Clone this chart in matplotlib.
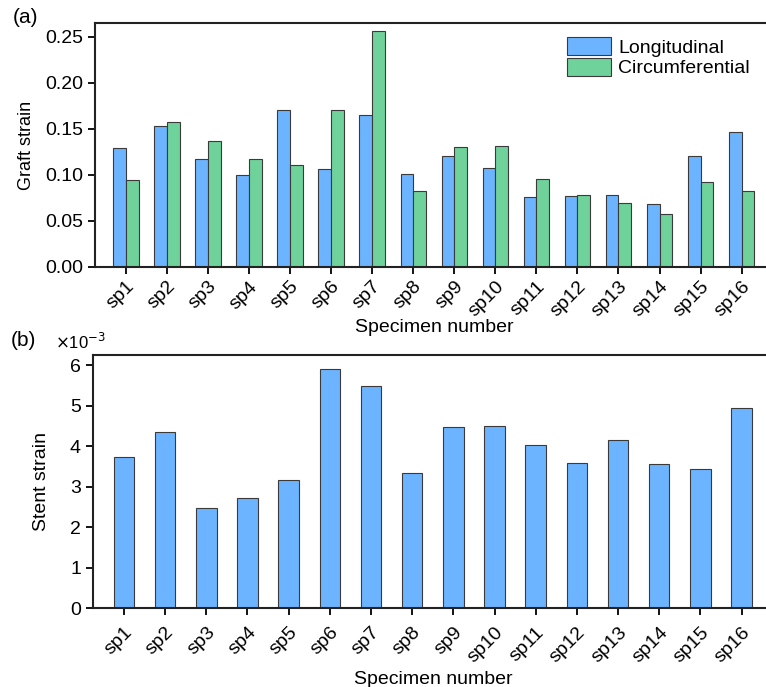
import matplotlib
matplotlib.use("Agg")
import matplotlib.pyplot as plt
import numpy as np

plt.rcParams['font.family'] = ['Liberation Sans', 'DejaVu Sans']

specimens = [f"sp{i}" for i in range(1, 17)]
longitudinal = [0.129, 0.153, 0.117, 0.100, 0.170, 0.106, 0.165, 0.101,
                0.121, 0.107, 0.076, 0.077, 0.078, 0.068, 0.121, 0.147]
circumferential = [0.094, 0.157, 0.137, 0.117, 0.111, 0.170, 0.256, 0.082,
                   0.130, 0.131, 0.096, 0.078, 0.069, 0.058, 0.092, 0.083]
stent_strain = [3.75, 4.35, 2.47, 2.73, 3.17, 5.91, 5.50, 3.35,
                4.47, 4.50, 4.04, 3.60, 4.15, 3.57, 3.44, 4.95]

blue = '#6CB4FF'
green = '#6FD29B'
edge = '#3a3a3a'

fig = plt.figure(figsize=(7.66, 6.87), dpi=100)
x = np.arange(1, 17)

# Panel (a)
ax1 = fig.add_axes([0.124, 0.6114, 0.886, 0.3551])
w = 0.31
ax1.bar(x - w/2, longitudinal, w, color=blue, edgecolor=edge, linewidth=0.8, label='Longitudinal')
ax1.bar(x + w/2, circumferential, w, color=green, edgecolor=edge, linewidth=0.8, label='Circumferential')
ax1.set_xlim(0.247, 16.78)
ax1.set_ylim(0, 0.265)
ax1.set_yticks([0, 0.05, 0.10, 0.15, 0.20, 0.25])
ax1.set_yticklabels(['0.00', '0.05', '0.10', '0.15', '0.20', '0.25'])
ax1.set_xticks(x)
ax1.set_xticklabels(specimens, rotation=45, ha='right', rotation_mode='anchor')
ax1.set_ylabel('Graft strain', fontsize=13, labelpad=7)
ax1.legend(loc='upper right', bbox_to_anchor=(0.985, 1.0), frameon=False, fontsize=14,
           handlelength=2.3, handleheight=1.1, handletextpad=0.35, labelspacing=0.05,
           borderaxespad=0.3)
ax1.text(-0.121, 0.985, '(a)', transform=ax1.transAxes, fontsize=15, va='bottom', ha='left')

# Panel (b)
ax2 = fig.add_axes([0.121, 0.1146, 0.889, 0.3687])
ax2.bar(x, stent_strain, 0.5, color=blue, edgecolor=edge, linewidth=0.8)
ax2.set_xlim(0.24, 16.78)
ax2.set_ylim(0, 6.26)
ax2.set_yticks(range(0, 7))
ax2.set_xticks(x)
ax2.set_xticklabels(specimens, rotation=45, ha='right', rotation_mode='anchor')
ax2.set_ylabel('Stent strain', fontsize=14, labelpad=14)
ax2.text(-0.12, 1.02, '(b)', transform=ax2.transAxes, fontsize=15, va='bottom', ha='left')
ax2.text(-0.056, 1.01, r'$\times$10$^{-3}$', transform=ax2.transAxes, fontsize=12,
         va='bottom', ha='left')

for ax in (ax1, ax2):
    for s in ax.spines.values():
        s.set_linewidth(1.5)
        s.set_color('#222222')
    ax.tick_params(axis='both', direction='out', length=5, width=1.3, labelsize=14, pad=3.5)

ax1.tick_params(axis='x', labelsize=14, pad=3)
ax2.tick_params(axis='x', labelsize=14, pad=6)
ax1.set_xlabel('Specimen number', fontsize=14, labelpad=-1)
ax2.set_xlabel('Specimen number', fontsize=14, labelpad=4)

fig.savefig('out.png', dpi=100)
